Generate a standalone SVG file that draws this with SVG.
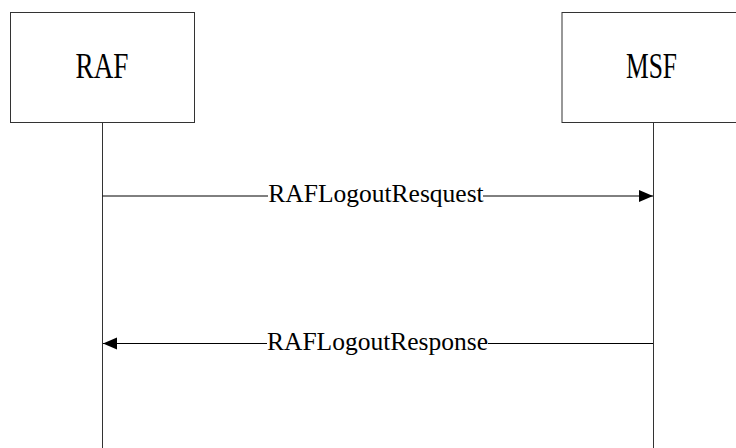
<svg xmlns="http://www.w3.org/2000/svg" width="736" height="448" viewBox="0 0 736 448">
<style>
.box{fill:#fff;stroke:#333;stroke-width:1}
.life{stroke:#333;stroke-width:1;fill:none}
.msg{stroke:#000;stroke-width:1;fill:none}
.name{font-family:"Liberation Serif",serif;font-size:36px;fill:#000;text-anchor:middle}
.lbl{font-family:"Liberation Serif",serif;font-size:25.5px;fill:#000;text-anchor:middle}
</style>
<defs>
<marker id="ah" markerWidth="16" markerHeight="14" refX="14" refY="6" orient="auto" markerUnits="userSpaceOnUse">
<path d="M0,0 L14,6 L0,12 Z" fill="#000"/>
</marker>
</defs>
<g id="RAF">
<rect class="box" x="10.5" y="12.5" width="184" height="110"/>
<text class="name" x="102" y="77.5" textLength="53" lengthAdjust="spacingAndGlyphs">RAF</text>
</g>
<g id="MSF">
<rect class="box" x="562" y="12.5" width="184" height="110"/>
<text class="name" x="651.5" y="77.5" textLength="51" lengthAdjust="spacingAndGlyphs">MSF</text>
</g>
<g id="connectors">
<line class="life" x1="102.5" y1="122.5" x2="102.5" y2="448"/>
<line class="life" x1="653.5" y1="122.5" x2="653.5" y2="448"/>
<line class="msg" x1="102.5" y1="196" x2="653" y2="196" marker-end="url(#ah)"/>
<rect x="268" y="184" width="215" height="24" fill="#fff"/>
<text class="lbl" x="376" y="201.7">RAFLogoutResquest</text>
<line class="msg" x1="653" y1="343.5" x2="103" y2="343.5" marker-end="url(#ah)"/>
<rect x="267" y="331" width="221" height="24" fill="#fff"/>
<text class="lbl" x="377.5" y="349.7">RAFLogoutResponse</text>
</g>
</svg>
